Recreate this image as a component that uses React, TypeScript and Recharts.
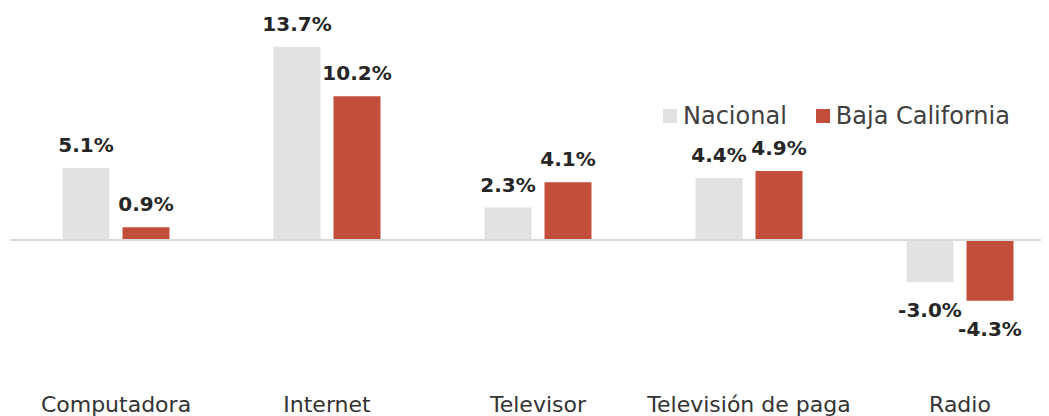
import { BarChart, Bar, XAxis, YAxis, ReferenceLine } from 'recharts';

const categories = ['Computadora', 'Internet', 'Televisor', 'Televisión de paga', 'Radio'];
const nacional = [5.1, 13.7, 2.3, 4.4, -3.0];
const bajaCalifornia = [0.9, 10.2, 4.1, 4.9, -4.3];

const seriesNames = ['Nacional', 'Baja California'];
const GRAY = '#e2e2e2';
const RED = '#c44e3c';
const FONT = '"DejaVu Sans", sans-serif';

const data = categories.map((name, i) => ({
  name,
  nacional: nacional[i],
  baja: bajaCalifornia[i],
}));

// value label: above the bar for positives, below it for negatives
function ValueLabel(props: any) {
  const { x, y, width, height, value } = props;
  const top = Math.min(y, y + height);
  const bottom = Math.max(y, y + height);
  const cx = x + width / 2;
  const ty = value >= 0 ? top - 16 : bottom + 35;
  return (
    <text x={cx} y={ty} textAnchor="middle" fontFamily={FONT} fontWeight="bold" fontSize={20} fill="#262626">
      {`${value.toFixed(1)}%`}
    </text>
  );
}

function LegendBox() {
  const colors = [GRAY, RED];
  return (
    <div
      style={{
        position: 'absolute',
        top: 94,
        left: 655,
        display: 'flex',
        alignItems: 'center',
        fontFamily: FONT,
        fontSize: 24,
        color: '#404040',
        whiteSpace: 'nowrap',
      }}
    >
      {seriesNames.map((n, i) => (
        <div key={n} style={{ display: 'flex', alignItems: 'center', marginRight: i === 0 ? 29 : 0 }}>
          <span style={{ width: 14, height: 14, background: colors[i], display: 'inline-block', marginRight: 6 }} />
          <span>{n}</span>
        </div>
      ))}
    </div>
  );
}

export default function App() {
  return (
    <div style={{ width: 1041, height: 408, overflow: 'hidden', position: 'relative' }}>
      <BarChart
        width={1057.5}
        height={408}
        data={data}
        margin={{ top: 6.4, right: 0, left: 2.5, bottom: 0 }}
        barSize={47}
        barGap={13}
      >
        <XAxis
          dataKey="name"
          axisLine={false}
          tickLine={false}
          height={63.2}
          tickMargin={38}
          tick={{ fontFamily: FONT, fontSize: 22, fill: '#333333' }}
          interval={0}
        />
        <YAxis hide domain={[-8, 16]} />
        <Bar dataKey="nacional" fill={GRAY} isAnimationActive={false} label={<ValueLabel />} />
        <Bar dataKey="baja" fill={RED} isAnimationActive={false} label={<ValueLabel />} />
        <ReferenceLine y={0} stroke="#d9d9d9" strokeWidth={2} />
      </BarChart>
      <LegendBox />
    </div>
  );
}
